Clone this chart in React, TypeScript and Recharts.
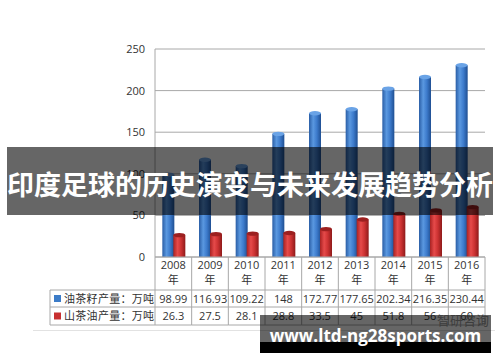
import { BarChart, Bar, XAxis, YAxis, CartesianGrid } from 'recharts';

const years = ['2008', '2009', '2010', '2011', '2012', '2013', '2014', '2015', '2016'];
const seedOutput = [98.99, 116.93, 109.22, 148, 172.77, 177.65, 202.34, 216.35, 230.44];
const oilOutput = [26.3, 27.5, 28.1, 28.8, 33.5, 45, 51.8, 56, 60];
const seedLabel = '油茶籽产量：万吨';
const oilLabel = '山茶油产量：万吨';
const yearSuffix = '年';
const yTicks = [0, 50, 100, 150, 200, 250];
const title = '印度足球的历史演变与未来发展趋势分析';
const watermark = 'www.ltd-ng28sports.com';
const sourceMark = '智研咨询';

const data = years.map((y, i) => ({ year: y, seed: seedOutput[i], oil: oilOutput[i] }));

// layout
const W = 500;
const H = 362;
const PLOT_LEFT = 155;
const PLOT_RIGHT = 485;
const PLOT_TOP = 49;
const TABLE_TOP = 257;
const ROW1 = 290;
const ROW2 = 307;
const ROW3 = 325;
const LABEL_LEFT = 50;
const COL = (PLOT_RIGHT - PLOT_LEFT) / years.length;
const BORDER = '#a8a8a8';
const TEXT = '#333';
const FONT = '"Open Sans", "Noto Sans CJK SC", sans-serif';
const CJK = '"Noto Sans CJK SC", sans-serif';

function Cylinder(props: any) {
  const { x, y, width, height, dark } = props;
  if (!height || height <= 0) return null;
  const ry = 2.2;
  const id = dark ? 'redCyl' : 'blueCyl';
  const top = dark ? '#9c2020' : '#6aa3e6';
  return (
    <g>
      <rect x={x} y={y} width={width} height={height} fill={`url(#${id})`} />
      <ellipse cx={x + width / 2} cy={y} rx={width / 2} ry={ry} fill={top} />
    </g>
  );
}

function TableTick(props: any) {
  const { x, payload } = props;
  const i = props.index ?? payload.index;
  const l = x - COL / 2;
  const r = x + COL / 2;
  return (
    <g fontFamily={FONT} fontSize={11} fill={TEXT}>
      <line x1={r} x2={r} y1={TABLE_TOP} y2={ROW3} stroke={BORDER} />
      <line x1={l} x2={r} y1={ROW1} y2={ROW1} stroke={BORDER} />
      <line x1={l} x2={r} y1={ROW2} y2={ROW2} stroke={BORDER} />
      <line x1={l} x2={r} y1={ROW3} y2={ROW3} stroke={BORDER} />
      <text x={x} y={269} textAnchor="middle">{years[i]}</text>
      <text x={x} y={284} textAnchor="middle" fontFamily={CJK}>{yearSuffix}</text>
      <text x={x} y={302.5} textAnchor="middle">{String(seedOutput[i])}</text>
      <text x={x} y={320} textAnchor="middle">{String(oilOutput[i])}</text>
      {i === 0 && (
        <g>
          <line x1={l} x2={l} y1={TABLE_TOP} y2={ROW3} stroke={BORDER} />
          <line x1={LABEL_LEFT} x2={l} y1={ROW1} y2={ROW1} stroke={BORDER} />
          <line x1={LABEL_LEFT} x2={l} y1={ROW2} y2={ROW2} stroke={BORDER} />
          <line x1={LABEL_LEFT} x2={l} y1={ROW3} y2={ROW3} stroke={BORDER} />
          <line x1={LABEL_LEFT} x2={LABEL_LEFT} y1={ROW1} y2={ROW3} stroke={BORDER} />
          <rect x={54} y={295} width={7} height={7} fill="#3c7cc8" />
          <rect x={54} y={312.5} width={7} height={7} fill="#c83030" />
          <text x={64} y={302.5} fontFamily={CJK} letterSpacing={0.3}>{seedLabel}</text>
          <text x={64} y={320} fontFamily={CJK} letterSpacing={0.3}>{oilLabel}</text>
        </g>
      )}
    </g>
  );
}

export default function App() {
  return (
    <div style={{ position: 'absolute', left: 0, top: 0, width: W, height: H, background: '#fff', overflow: 'hidden' }}>
      <BarChart
        width={W}
        height={H}
        data={data}
        margin={{ top: PLOT_TOP, right: W - PLOT_RIGHT, bottom: 0, left: 105 }}
        barCategoryGap="20%"
        barGap={-1}
      >
        <defs>
          <linearGradient id="blueCyl" x1="0" y1="0" x2="1" y2="0">
            <stop offset="0%" stopColor="#2a5ea6" />
            <stop offset="35%" stopColor="#5a98e0" />
            <stop offset="65%" stopColor="#3d7bcc" />
            <stop offset="100%" stopColor="#1f4f92" />
          </linearGradient>
          <linearGradient id="redCyl" x1="0" y1="0" x2="1" y2="0">
            <stop offset="0%" stopColor="#a82222" />
            <stop offset="35%" stopColor="#e64a4a" />
            <stop offset="65%" stopColor="#cc3232" />
            <stop offset="100%" stopColor="#8e1a1a" />
          </linearGradient>
        </defs>
        <CartesianGrid vertical={false} stroke={BORDER} />
        <YAxis
          domain={[0, 250]}
          ticks={yTicks}
          width={50}
          axisLine={{ stroke: BORDER }}
          tickLine={false}
          tickMargin={4}
          tick={{ fontSize: 11, fill: TEXT, fontFamily: FONT }}
        />
        <XAxis
          dataKey="year"
          height={H - TABLE_TOP}
          interval={0}
          axisLine={{ stroke: BORDER }}
          tickLine={false}
          tick={<TableTick />}
        />
        <Bar dataKey="seed" isAnimationActive={false} shape={(p: any) => <Cylinder {...p} />} />
        <Bar dataKey="oil" isAnimationActive={false} shape={(p: any) => <Cylinder {...p} dark />} />
      </BarChart>

      <div style={{ position: 'absolute', left: 33, top: 330, width: 462, height: 1, background: '#e2e2e2' }} />

      <div style={{ position: 'absolute', left: 437, top: 310, fontFamily: CJK, fontSize: 13, color: '#9a9a9a' }}>
        {sourceMark}
      </div>

      <div
        style={{
          position: 'absolute', left: 7, top: 147, width: 486, height: 68,
          background: 'rgba(0,0,0,0.6)', display: 'flex', alignItems: 'center', justifyContent: 'center',
        }}
      >
        <span style={{ color: '#fff', fontFamily: CJK, fontWeight: 700, fontSize: 27, whiteSpace: 'nowrap', marginTop: 4 }}>
          {title}
        </span>
      </div>

      <div style={{ position: 'absolute', left: 260, top: 315, width: 231, height: 38, background: 'rgba(0,0,0,0.6)' }}>
        <div style={{ position: 'absolute', left: 0, bottom: 0, width: '100%', height: 11, background: '#000' }} />
        <div
          style={{
            position: 'absolute', left: 0, top: 10, width: '100%', textAlign: 'center',
            color: '#fff', fontFamily: '"Open Sans", sans-serif', fontWeight: 700, fontSize: 17, lineHeight: '22px',
          }}
        >
          {watermark}
        </div>
      </div>
    </div>
  );
}
